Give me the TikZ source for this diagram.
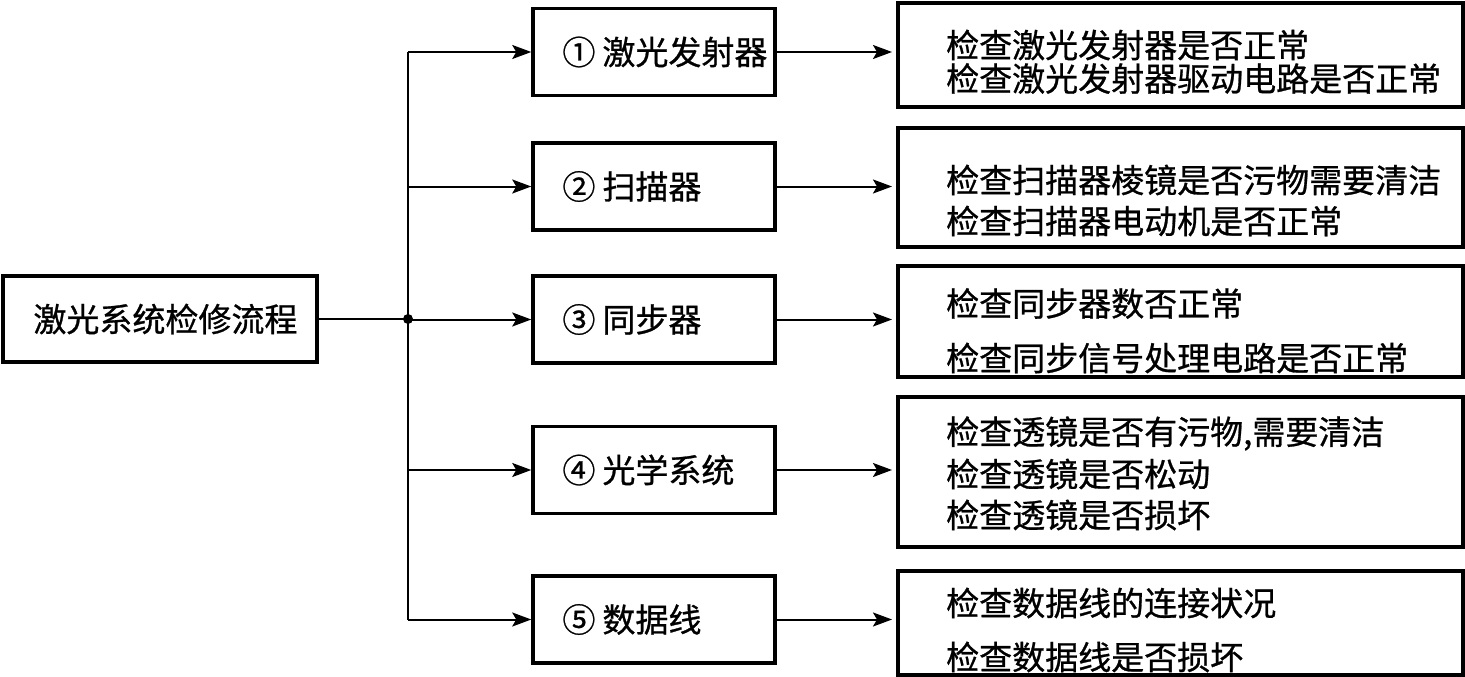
\documentclass[tikz,border=0pt]{standalone}
\usepackage{fontspec}
\newfontfamily\cjk[FakeBold=0.8]{Noto Sans CJK SC}
\usetikzlibrary{arrows.meta}
\begin{document}
\begin{tikzpicture}[x=1pt,y=-1pt,
  box/.style={draw, line width=3.5pt, rectangle, inner sep=0pt},
  conn/.style={line width=2pt},
  arr/.style={conn, -{Stealth[length=19pt,width=14pt,inset=4pt]}},
  txt/.style={anchor=west, inner sep=0pt, font=\cjk\fontsize{33pt}{38pt}\selectfont},
]
\useasboundingbox (0,0) rectangle (1465,677);
\fill[white] (0,0) rectangle (1465,677);

% left box
\node[box, minimum width=314pt, minimum height=86pt] (L) at (160,319) {};
\node[txt] (Lt) at ([xshift=32pt]L.west) {激光系统检修流程};

% junction
\coordinate (J) at (408,319);
\coordinate (Jtop) at (408,52);
\coordinate (Jbot) at (408,619.5);
\fill (J) circle (5pt);
\draw[conn] (L.east) -- (J);
\draw[conn] (Jtop) -- (Jbot);

% middle boxes
\foreach \i/\y in {1/52,2/186.5,3/319.5,4/470,5/619.5}{
  \node[box, minimum width=242pt, minimum height=87pt] (M\i) at (654,\y) {};
  \coordinate (B\i) at (408,\y);
  \coordinate (E\i) at (892,\y);
  \draw[arr] (B\i) -- (M\i.west);
  \draw[arr] (M\i.east) -- (E\i);
}
\node[txt] (Mt1) at ([xshift=31pt]M1.west) {①\hspace{7pt}激光发射器};
\node[txt] (Mt2) at ([xshift=31pt]M2.west) {②\hspace{7pt}扫描器};
\node[txt] (Mt3) at ([xshift=31pt]M3.west) {③\hspace{7pt}同步器};
\node[txt] (Mt4) at ([xshift=31pt]M4.west) {④\hspace{7pt}光学系统};
\node[txt] (Mt5) at ([xshift=31pt]M5.west) {⑤\hspace{7pt}数据线};

% right boxes
\node[box, minimum width=565pt, minimum height=104pt] (R1) at (1180.5,55) {};
\node[box, minimum width=565pt, minimum height=119pt] (R2) at (1180.5,187.5) {};
\node[box, minimum width=565pt, minimum height=111pt] (R3) at (1180.5,321.5) {};
\node[box, minimum width=565pt, minimum height=150pt] (R4) at (1180.5,472) {};
\node[box, minimum width=565pt, minimum height=104pt] (R5) at (1180.5,623) {};

\node[txt] (r1a) at (946,45) {检查激光发射器是否正常};
\node[txt] (r1b) at (946,78.5) {检查激光发射器驱动电路是否正常};
\node[txt] (r2a) at (946,180) {检查扫描器棱镜是否污物需要清洁};
\node[txt] (r2b) at (946,221) {检查扫描器电动机是否正常};
\node[txt] (r3a) at (946,303.5) {检查同步器数否正常};
\node[txt] (r3b) at (946,358) {检查同步信号处理电路是否正常};
\node[txt] (r4a) at (946,433.5) {检查透镜是否有污物,需要清洁};
\node[txt] (r4b) at (946,474) {检查透镜是否松动};
\node[txt] (r4c) at (946,515) {检查透镜是否损坏};
\node[txt] (r5a) at (946,603) {检查数据线的连接状况};
\node[txt] (r5b) at (946,657) {检查数据线是否损坏};
\end{tikzpicture}
\end{document}
